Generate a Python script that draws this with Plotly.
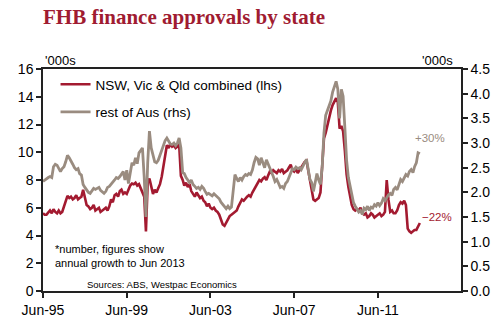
import pandas as pd
import plotly.graph_objects as go

# Monthly data, Jun-1995 to Jun-2013
start_month = "1995-06-01"

nsw_vic_qld = [
    5.6, 5.5, 5.5, 5.7, 5.8, 5.6, 5.9, 5.7, 5.6, 5.8, 5.6, 5.7,
    6.1, 6.6, 6.85, 6.7, 6.8, 6.6, 6.7, 6.9, 6.6, 6.7, 6.8, 7.3,
    6.8, 6.2, 6.1, 5.9, 6.0, 6.2, 5.8, 5.9, 6.0, 5.7, 5.8, 5.9,
    6.0, 5.8, 6.1, 6.6, 6.4, 6.9, 7.0, 6.8, 7.2, 7.3, 7.0, 7.1,
    7.0, 7.3, 7.6, 7.75, 7.7, 7.8, 7.6, 7.7, 7.4, 7.0, 6.8, 4.3,
    7.8, 8.1, 7.4, 7.0, 7.3, 7.1, 7.4, 7.7, 8.25, 9.0, 9.85, 10.5,
    10.3, 10.6, 10.4, 10.5, 10.3, 10.4, 10.6, 8.3, 8.0, 7.6, 7.8, 7.5,
    7.7, 7.2, 7.0, 6.8, 7.1, 6.9, 6.7, 6.8, 6.5, 6.4, 6.1, 6.3,
    6.0, 5.9, 6.0, 5.8, 5.7, 5.5, 5.1, 4.8, 4.7, 4.9, 5.2, 5.4,
    5.5, 5.6, 5.7, 5.8, 6.1, 6.4, 6.6, 6.5, 6.7, 6.8, 6.9, 6.8,
    7.1, 7.3, 7.6, 7.8, 8.0, 7.9, 8.1, 8.2, 8.0, 8.3, 8.6, 8.5,
    8.7, 8.6, 8.5, 8.7, 8.6, 8.8, 8.5, 8.6, 8.7, 8.9, 9.1, 8.7,
    8.6, 8.8, 8.5, 8.7, 8.9, 9.1, 9.3, 9.4, 8.6, 8.0, 7.2, 6.6,
    6.5, 6.6, 6.7, 7.1, 9.0, 11.0, 11.4, 12.0, 12.7, 13.0, 13.4, 13.7,
    13.9, 13.6, 11.7, 11.9, 11.5, 10.1, 8.4, 7.5, 6.9, 6.2, 5.9, 5.8,
    5.9, 5.8, 6.0, 5.6, 5.5, 5.6, 5.3, 5.4, 5.6, 5.5, 5.3, 5.4,
    5.5, 5.6, 5.4, 5.5, 5.7, 8.0, 6.6, 5.7, 5.8, 5.6, 5.6, 5.8,
    6.2, 6.4, 6.3, 6.5, 6.2, 4.5, 4.3, 4.2, 4.3, 4.4, 4.4, 4.6,
    4.9,
]

rest_of_aus = [
    2.22, 2.25, 2.28, 2.30, 2.32, 2.30, 2.52, 2.57, 2.55, 2.50, 2.42, 2.48,
    2.52, 2.62, 2.75, 2.70, 2.62, 2.57, 2.50, 2.46, 2.48, 2.38, 2.35, 2.16,
    2.10, 2.05, 2.00, 1.98, 2.04, 2.08, 2.06, 2.08, 2.10, 2.04, 2.00, 1.98,
    2.02, 2.10, 2.12, 2.16, 2.22, 2.25, 2.30, 2.28, 2.32, 2.38, 2.42, 2.25,
    2.45, 2.18, 2.38, 2.60, 2.55, 2.70, 2.58, 2.80, 2.85, 2.90, 2.30, 1.50,
    2.60, 3.24, 2.90, 2.75, 2.62, 2.60, 2.65, 2.75, 2.85, 2.95, 3.05, 3.10,
    3.05, 2.98, 2.97, 3.00, 2.95, 3.00, 3.10, 2.90, 2.40, 2.38, 2.30, 2.26,
    2.20, 2.25, 2.16, 2.12, 2.08, 2.10, 2.06, 2.12, 2.08, 2.02, 1.96, 1.98,
    1.95, 1.93, 1.97, 1.93, 1.90, 1.87, 1.80, 1.75, 1.72, 1.67, 1.72, 1.67,
    1.70, 1.98, 2.36, 2.28, 2.22, 2.30, 2.25, 2.32, 2.36, 2.34, 2.38, 2.36,
    2.45, 2.60, 2.71, 2.68, 2.55, 2.70, 2.62, 2.50, 2.66, 2.58, 2.52, 2.42,
    2.32, 2.22, 2.26, 2.18, 2.10, 2.12, 2.08, 2.18, 2.22, 2.30, 2.40, 2.48,
    2.46, 2.51, 2.48, 2.50, 2.46, 2.55, 2.60, 2.67, 2.40, 2.26, 2.20, 2.02,
    2.20, 2.38, 2.25, 2.16, 2.51, 3.20, 3.56, 3.65, 3.75, 3.85, 4.03, 4.15,
    4.25, 4.09, 3.50, 4.09, 3.95, 3.30, 2.65, 2.30, 2.10, 1.98, 1.79, 1.72,
    1.67, 1.60, 1.63, 1.55, 1.68, 1.65, 1.72, 1.63, 1.70, 1.68, 1.75, 1.72,
    1.79, 1.73, 1.78, 1.87, 1.83, 1.90, 1.95, 1.98, 1.94, 2.06, 2.10, 2.05,
    2.15, 2.26, 2.22, 2.30, 2.36, 2.33, 2.42, 2.46, 2.40, 2.52, 2.60, 2.80,
    2.78,
]

tick_dates = ["1995-06-01", "1999-06-01", "2003-06-01", "2007-06-01", "2011-06-01"]
tick_labels = ["Jun-95", "Jun-99", "Jun-03", "Jun-07", "Jun-11"]

dates = pd.date_range(start_month, periods=len(nsw_vic_qld), freq="MS")

RED = "#A31A30"
GREY = "#9A8C80"
AX = "#222222"
FONT = "Liberation Sans, Arial, sans-serif"

fig = go.Figure()
fig.add_trace(go.Scatter(x=dates, y=nsw_vic_qld, mode="lines", name="NSW, Vic & Qld combined (lhs)",
                         line=dict(color=RED, width=2.6), legendgroup="a"))
fig.add_trace(go.Scatter(x=dates, y=rest_of_aus, mode="lines", name="rest of Aus (rhs)",
                         line=dict(color=GREY, width=2.8), yaxis="y2", legendgroup="b"))

fig.update_layout(
    width=502, height=330,
    margin=dict(l=43, r=41, t=69, b=32),
    paper_bgcolor="white", plot_bgcolor="white",
    font=dict(family=FONT, color="#000000", size=13),
    showlegend=True,
    legend=dict(x=0.03, y=1.0, xanchor="left", yanchor="top", bgcolor="rgba(0,0,0,0)",
                font=dict(size=13.5, family=FONT), itemwidth=30, traceorder="grouped",
                tracegroupgap=7),
    xaxis=dict(type="date", range=["1995-06-01", "2015-05-20"],
               tickvals=tick_dates, ticktext=tick_labels,
               showgrid=False, zeroline=False, showline=True, linecolor=AX, linewidth=1.5,
               mirror=True, ticks="outside", ticklen=5, tickwidth=1.5, tickcolor=AX,
               tickfont=dict(size=14, family=FONT)),
    yaxis=dict(range=[0, 16], dtick=2, showgrid=False, zeroline=False, showline=True,
               linecolor=AX, linewidth=1.5, ticks="outside", ticklen=5, tickwidth=1.5,
               tickcolor=AX, tickfont=dict(size=14, family=FONT)),
    yaxis2=dict(range=[0, 4.5], dtick=0.5, tickformat=".1f", overlaying="y", side="right",
                showgrid=False, zeroline=False, showline=True, linecolor=AX, linewidth=1.5,
                ticks="outside", ticklen=5, tickwidth=1.5, tickcolor=AX,
                tickfont=dict(size=14, family=FONT)),
)

ann = [
    dict(text="<b>FHB finance approvals by state</b>", x=-0.005, y=1.236, xanchor="left",
         yanchor="middle", font=dict(family="Liberation Serif, Times New Roman, serif", size=21, color="#A01B31")),
    dict(text="'000s", x=0.0, y=1.04, xanchor="left", yanchor="middle", font=dict(size=13)),
    dict(text="'000s", x=0.986, y=1.04, xanchor="right", yanchor="middle", font=dict(size=13)),
    dict(text="+30%", x=0.926, y=0.69, xanchor="center", yanchor="middle", font=dict(size=11.5, color=GREY)),
    dict(text="\u221222%", x=0.943, y=0.332, xanchor="center", yanchor="middle", font=dict(size=11.5, color=RED)),
    dict(text="*number, figures show<br>annual growth to Jun 2013", x=0.024, y=0.157, xanchor="left",
         yanchor="middle", align="left", font=dict(size=11)),
    dict(text="Sources: ABS, Westpac Economics", x=0.1, y=0.03, xanchor="left", yanchor="middle",
         font=dict(size=9.5)),
]
for a in ann:
    a.update(xref="paper", yref="paper", showarrow=False)
    fig.add_annotation(**a)

fig.write_html("out.html")
